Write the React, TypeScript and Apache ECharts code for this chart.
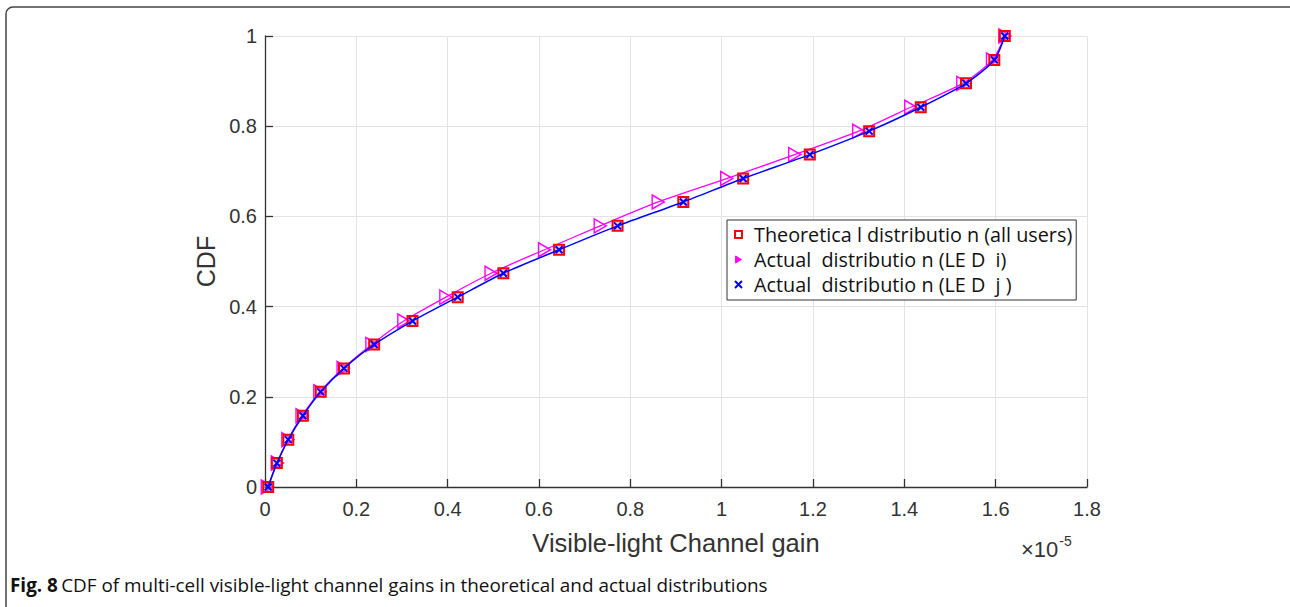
import React, { useEffect, useRef } from "react";
import * as echarts from "echarts";

// CDF levels (y) shared by the marker points
const cdfLevels = [0, 0.053, 0.105, 0.158, 0.211, 0.263, 0.316, 0.368, 0.421, 0.474, 0.526, 0.579, 0.632, 0.684, 0.737, 0.789, 0.842, 0.895, 0.947, 1.0];
// Channel gain values, in units of 1e-5
const theoreticalGain = [0.007, 0.026, 0.051, 0.083, 0.122, 0.173, 0.239, 0.323, 0.422, 0.522, 0.644, 0.772, 0.916, 1.047, 1.193, 1.323, 1.436, 1.535, 1.597, 1.62];
const ledIGain = [0.005, 0.027, 0.05, 0.081, 0.12, 0.171, 0.234, 0.304, 0.396, 0.495, 0.612, 0.734, 0.861, 1.011, 1.16, 1.3, 1.414, 1.528, 1.593, 1.62];
const ledJGain = [0.007, 0.026, 0.051, 0.083, 0.122, 0.173, 0.239, 0.323, 0.422, 0.522, 0.644, 0.772, 0.916, 1.047, 1.193, 1.323, 1.436, 1.535, 1.597, 1.62];

const seriesNames = [
  "Theoretica l distributio n (all users)",
  "Actual  distributio n (LE D  i)",
  "Actual  distributio n (LE D  j )",
];

const TRI = "path://M0,0L10,6L0,12Z";
const XMARK = "path://M0,0L10,10M10,0L0,10";

const pairs = (xs: number[], ys: number[]) => xs.map((x, i) => [x, ys[i]]);

export default function App() {
  const ref = useRef<HTMLDivElement>(null);
  useEffect(() => {
    document.body.style.margin = "0";
    const chart = echarts.init(ref.current!, null, { renderer: "svg" });
    const axisFont = "'Liberation Sans', Arial, sans-serif";
    const legendFont = "'Open Sans', sans-serif";
    chart.setOption({
      animation: false,
      backgroundColor: "#fff",
      grid: { left: 265, top: 36, right: 203, bottom: 120, containLabel: false },
      xAxis: {
        type: "value",
        min: 0,
        max: 1.8,
        interval: 0.2,
        name: "Visible-light Channel gain",
        nameLocation: "middle",
        nameGap: 43,
        nameTextStyle: { fontFamily: axisFont, fontSize: 25.5, color: "#333" },
        axisLine: { show: true, lineStyle: { color: "#333", width: 1.3 } },
        axisTick: { show: true, inside: true, length: 8, lineStyle: { color: "#333", width: 1.3 } },
        axisLabel: {
          fontFamily: axisFont,
          fontSize: 20,
          color: "#333",
          margin: 12,
          formatter: (v: number) => String(Math.round(v * 10) / 10),
        },
        splitLine: { show: true, lineStyle: { color: "#e3e3e3", width: 1 } },
      },
      yAxis: {
        type: "value",
        min: 0,
        max: 1,
        interval: 0.2,
        name: "CDF",
        nameLocation: "middle",
        nameGap: 45,
        nameTextStyle: { fontFamily: axisFont, fontSize: 25, color: "#333" },
        axisLine: { show: true, lineStyle: { color: "#333", width: 1.3 } },
        axisTick: { show: true, inside: true, length: 8, lineStyle: { color: "#333", width: 1.3 } },
        axisLabel: {
          fontFamily: axisFont,
          fontSize: 20,
          color: "#333",
          margin: 8,
          formatter: (v: number) => String(Math.round(v * 10) / 10),
        },
        splitLine: { show: true, lineStyle: { color: "#e3e3e3", width: 1 } },
      },
      legend: {
        orient: "vertical",
        left: 727,
        top: 220,
        backgroundColor: "#fff",
        borderColor: "#333",
        borderWidth: 1,
        borderRadius: 0,
        padding: [4, 4, 5, 7],
        itemGap: 4,
        itemWidth: 7,
        itemHeight: 7,
        textStyle: { fontFamily: legendFont, fontSize: 19.8, color: "#111", lineHeight: 21, padding: [0, 0, 0, 7] },
        data: [
          { name: seriesNames[0], icon: "rect", itemStyle: { color: "#fff", borderColor: "#ff0000", borderWidth: 2 } },
          { name: seriesNames[1], icon: TRI, itemStyle: { color: "#ff00ff", borderColor: "#ff00ff", borderWidth: 1 } },
          { name: seriesNames[2], icon: XMARK, itemStyle: { color: "#0000ff", borderColor: "#0000ff", borderWidth: 2 } },
        ],
      },
      series: [
        {
          name: seriesNames[1],
          type: "line",
          data: pairs(ledIGain, cdfLevels),
          smooth: 0.25,
          symbol: TRI,
          symbolSize: [12, 14],
          lineStyle: { color: "#ff00ff", width: 1.3 },
          itemStyle: { color: "rgba(255,255,255,0)", borderColor: "#ff00ff", borderWidth: 1.5 },
          z: 2,
        },
        {
          name: seriesNames[0],
          type: "scatter",
          data: pairs(theoreticalGain, cdfLevels),
          symbol: "rect",
          symbolSize: 10,
          itemStyle: { color: "rgba(255,120,120,0.35)", borderColor: "#ff0000", borderWidth: 2, opacity: 1 },
          z: 3,
        },
        {
          name: seriesNames[2],
          type: "line",
          data: pairs(ledJGain, cdfLevels),
          smooth: 0.25,
          symbol: XMARK,
          symbolSize: 7,
          lineStyle: { color: "#0000ff", width: 1.5 },
          itemStyle: { color: "#0000ff", borderColor: "#0000ff", borderWidth: 2 },
          z: 4,
        },
      ],
      graphic: [
        {
          type: "rect",
          shape: { x: 6, y: 7, width: 1300, height: 640, r: 7 },
          style: { fill: "none", stroke: "#444", lineWidth: 1.5 },
          silent: true,
          z: -10,
        },
        {
          type: "text",
          x: 1021,
          y: 534,
          style: {
            text: "{a|×10}{b|-5}",
            rich: {
              a: { fontFamily: axisFont, fontSize: 22, fill: "#333", verticalAlign: "bottom", lineHeight: 26 },
              b: { fontFamily: axisFont, fontSize: 14, fill: "#333", verticalAlign: "top", lineHeight: 26, padding: [0, 0, 10, 1] },
            },
          },
        },
        {
          type: "text",
          x: 10,
          y: 575,
          style: {
            text: "{b|Fig. 8} {r|CDF of multi-cell visible-light channel gains in theoretical and actual distributions}",
            rich: {
              b: { fontFamily: legendFont, fontSize: 18.9, fontWeight: "bold", fill: "#111" },
              r: { fontFamily: legendFont, fontSize: 18.9, fill: "#111" },
            },
          },
        },
      ],
    });
    return () => chart.dispose();
  }, []);
  return <div ref={ref} style={{ width: 1290, height: 607 }} />;
}
